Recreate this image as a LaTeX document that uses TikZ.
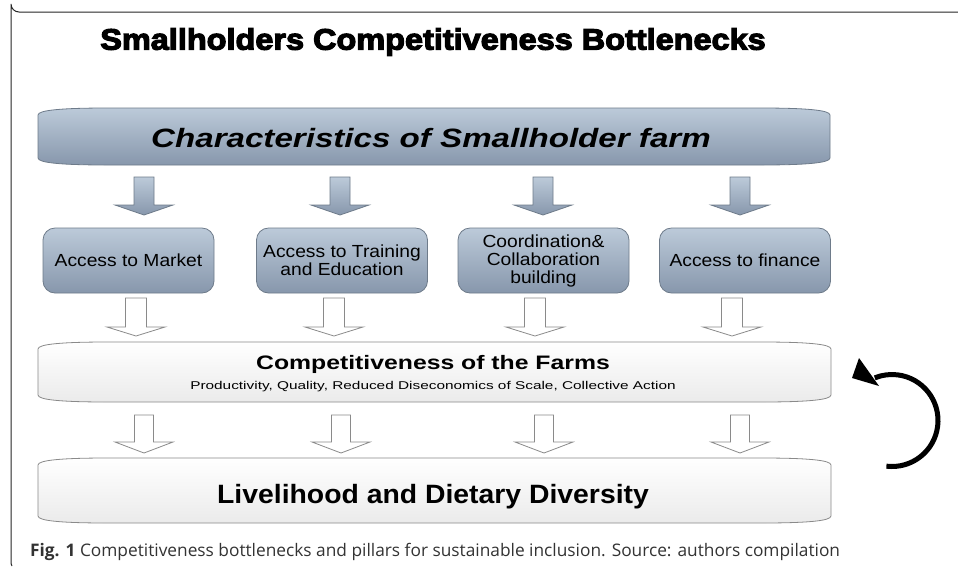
\documentclass[tikz,border=0pt]{standalone}
\usepackage{fontspec}
\setmainfont{Liberation Sans}
\newfontfamily\heavyfont{Liberation Sans}[BoldFeatures={FakeBold=4,FakeStretch=1.1}]
\newfontfamily\boxfont{Liberation Sans}[FakeStretch=1.1]
\newfontfamily\charfont{Liberation Sans}[BoldItalicFeatures={FakeStretch=1.25}]
\newfontfamily\compfont{Liberation Sans}[BoldFeatures={FakeStretch=1.27}]
\newfontfamily\subfont{Liberation Sans}[FakeStretch=1.36]
\newfontfamily\livefont{Liberation Sans}[BoldFeatures={FakeStretch=1.07}]
\newfontfamily\capfont{Open Sans}
\definecolor{bluetop}{HTML}{BCCAD9}
\definecolor{bluebot}{HTML}{8797AC}
\definecolor{blueline}{HTML}{6E7B8A}
\definecolor{greyline}{HTML}{8A8A8A}
\definecolor{captext}{HTML}{333333}
\tikzset{
  x=1pt,y=-1pt,
  bluefill/.style={top color=bluetop,bottom color=bluebot,draw=blueline,line width=0.8pt},
  whitefill/.style={top color=white,bottom color=black!8,draw=greyline,line width=0.8pt},
  midbox/.style={bluefill,rounded corners=12pt,minimum width=171pt,minimum height=65pt,
     align=center,font=\boxfont\fontsize{17.5}{18}\selectfont,inner sep=0pt},
  bluearrow/.pic={\path[bluefill] (-10,0) -- (10,0) -- (10,28) -- (29,28) -- (0,38) -- (-29,28) -- (-10,28) -- cycle;},
  hollowarrowA/.pic={\path[draw=greyline,fill=white,line width=0.8pt] (-10.5,0) -- (10.5,0) -- (10.5,29) -- (29,29) -- (0,38) -- (-29,29) -- (-10.5,29) -- cycle;},
  hollowarrowB/.pic={\path[draw=greyline,fill=white,line width=0.8pt] (-9.5,0) -- (9.5,0) -- (9.5,27) -- (29,27) -- (0,38) -- (-29,27) -- (-9.5,27) -- cycle;},
}
\newcommand{\barshape}[5]{% x0 y0 x1 y1 style
  \path[#5] (#1,#2+7) .. controls (#1,#2+2) and (#1+25,#2) .. (#1+70,#2)
     -- (#3-70,#2) .. controls (#3-25,#2) and (#3,#2+2) .. (#3,#2+7)
     -- (#3,#4-7) .. controls (#3,#4-2) and (#3-25,#4) .. (#3-70,#4)
     -- (#1+70,#4) .. controls (#1+25,#4) and (#1,#4-2) .. (#1,#4-7) -- cycle;}
\begin{document}
\begin{tikzpicture}
\useasboundingbox (0,0) rectangle (958,566);
\fill[white] (0,0) rectangle (958,566);
% frame
\draw[line width=1pt,black!85] (958,12) -- (19,12) arc[start angle=90,end angle=180,radius=8] -- (11,560) .. controls (11,564) .. (12,566);
% title
\node[font=\heavyfont\bfseries\fontsize{29.5}{30}\selectfont] (title) at (433,42) {Smallholders Competitiveness Bottlenecks};
% top bar
\barshape{38}{108}{830}{165}{bluefill}
\node[font=\charfont\bfseries\itshape\fontsize{26.5}{28}\selectfont] (chars) at (431,138) {Characteristics of Smallholder farm};
% blue arrows
\pic at (144,177) {bluearrow};
\pic at (340,177) {bluearrow};
\pic at (543,177) {bluearrow};
\pic at (740,177) {bluearrow};
% middle boxes
\node[midbox] (market) at (128.5,260.5) {Access to Market};
\node[midbox] (training) at (342,260.5) {Access to Training\\and Education};
\node[midbox] (coord) at (543.5,260.5) {Coordination\&\\Collaboration\\building};
\node[midbox] (finance) at (745,260.5) {Access to finance};
% hollow arrows row 1
\pic at (136,298) {hollowarrowA};
\pic at (334,298) {hollowarrowA};
\pic at (535,298) {hollowarrowA};
\pic at (732,298) {hollowarrowA};
% competitiveness bar
\barshape{38}{342}{831}{402}{whitefill}
\node[font=\compfont\bfseries\fontsize{19.5}{20}\selectfont] (comp) at (433,364) {Competitiveness of the Farms};
\node[font=\subfont\fontsize{11.3}{12}\selectfont] (compsub) at (433,387) {Productivity, Quality, Reduced Diseconomics of Scale, Collective Action};
% hollow arrows row 2
\pic at (144,415) {hollowarrowB};
\pic at (341,415) {hollowarrowB};
\pic at (544,415) {hollowarrowB};
\pic at (740,415) {hollowarrowB};
% livelihood bar
\barshape{38}{458}{831}{523}{whitefill}
\node[font=\livefont\bfseries\fontsize{26.5}{27}\selectfont] (live) at (433,497) {Livelihood and Dietary Diversity};
% curved arrow (feedback)
\coordinate (arccentre) at (892,420.5);
\draw[line width=5pt] ([shift={(97:46)}]arccentre) arc[start angle=97,end angle=-112,radius=46];
\fill (852,378) -- (859,358) -- (879,386) -- cycle;
% caption
\node[anchor=west,font=\capfont\fontsize{17.3}{18}\selectfont,text=captext,inner sep=0pt] (caption) at (30,552) {\textbf{Fig. 1} Competitiveness bottlenecks and pillars for sustainable inclusion. Source: authors compilation};
\end{tikzpicture}
\end{document}
